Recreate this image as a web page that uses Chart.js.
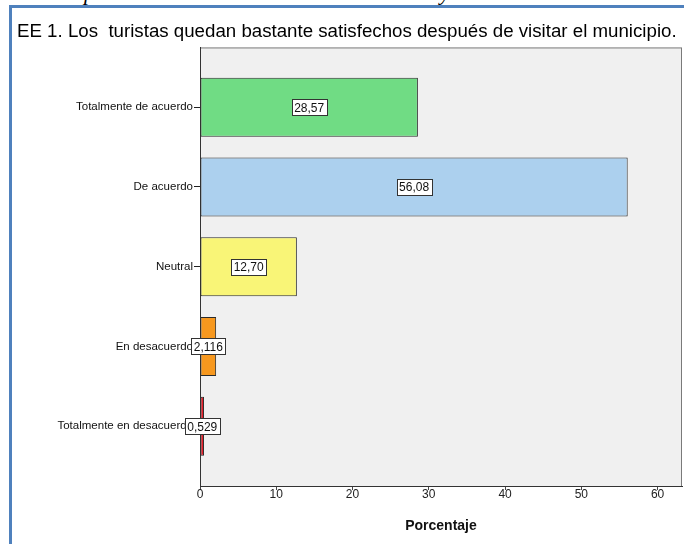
<!DOCTYPE html>
<html>
<head>
<meta charset="utf-8">
<script src="https://cdn.jsdelivr.net/npm/chart.js@4.4.1/dist/chart.umd.min.js"></script>
<style>
  html, body { margin: 0; padding: 0; background: #fff; }
  body { width: 684px; height: 544px; position: relative; overflow: hidden; }
  /* blue frame of the document figure, only left and top are visible */
  #frame { position: absolute; left: 9px; top: 5px; width: 700px; height: 560px;
           border-left: 3px solid #4F81BD; border-top: 3px solid #4F81BD; }
  /* descenders of the caption line above, cut by the crop */
  #cut { position: absolute; left: 0; top: 0; width: 684px; height: 5px; overflow: hidden;
         font: italic 22px 'Liberation Serif', serif; line-height: 22px; color: #000; }
  #cut span { position: absolute; top: -18px; }
  #wrap { position: absolute; left: 0; top: 0; width: 684px; height: 544px; }
</style>
</head>
<body>
<div id="cut"><span style="left:84px">p</span><span style="left:440px">y</span></div>
<div id="frame"></div>
<div id="wrap"><canvas id="chart" width="684" height="544"></canvas></div>

<script>
const TITLE = 'EE 1. Los  turistas quedan bastante satisfechos después de visitar el municipio.';
const CATEGORIES = [
  'Totalmente de acuerdo',
  'De acuerdo',
  'Neutral',
  'En desacuerdo',
  'Totalmente en desacuerdo',
];
const PERCENTAGES = [28.57, 56.08, 12.70, 2.116, 0.529];
const BAR_COLORS  = ['#70DC84', '#ACD0EE', '#F9F577', '#F7981E', '#E41E2A'];
const X_TICKS     = [0, 10, 20, 30, 40, 50, 60];
const X_LABEL     = 'Porcentaje';

const FONT = '"Liberation Sans", Arial, sans-serif';

// SPSS style: comma decimal, 4 significant digits
function fmt(v) {
  return (v >= 10 ? v.toFixed(2) : v.toFixed(3)).replace('.', ',');
}

// fit the title to the width it takes in the picture
function titleSize() {
  const c = document.createElement('canvas').getContext('2d');
  c.font = '100px ' + FONT;
  return Math.round(100 * 661 / c.measureText(TITLE).width * 10) / 10;
}

const plotBox = {
  id: 'plotBox',
  beforeDraw(chart) {
    const { ctx, chartArea: a } = chart;
    ctx.save();
    ctx.fillStyle = '#F0F0F0';
    ctx.fillRect(a.left, a.top, a.right - a.left, a.bottom - a.top);
    ctx.strokeStyle = '#7A7A7A';
    ctx.lineWidth = 1;
    ctx.strokeRect(a.left + 0.5, a.top + 0.5, a.right - a.left - 1, a.bottom - a.top);
    ctx.restore();
  },
};

const valueBoxes = {
  id: 'valueBoxes',
  afterDatasetsDraw(chart) {
    const ctx = chart.ctx;
    const meta = chart.getDatasetMeta(0);
    ctx.save();
    ctx.font = '12px ' + FONT;
    ctx.textAlign = 'center';
    ctx.textBaseline = 'middle';
    meta.data.forEach((bar, i) => {
      const txt = fmt(PERCENTAGES[i]);
      const cx = (bar.x + bar.base) / 2;
      const cy = bar.y;
      const w = Math.round(ctx.measureText(txt).width + 5);
      const h = 16;
      const x0 = Math.round(cx - w / 2) + 0.5;
      const y0 = Math.round(cy - h / 2) + 0.5;
      ctx.fillStyle = '#fff';
      ctx.fillRect(x0, y0, w, h);
      ctx.strokeStyle = '#333';
      ctx.lineWidth = 1;
      ctx.strokeRect(x0, y0, w, h);
      ctx.fillStyle = '#111';
      ctx.fillText(txt, cx, cy + 1);
    });
    ctx.restore();
  },
};

new Chart(document.getElementById('chart'), {
  type: 'bar',
  data: {
    datasets: [{
      data: PERCENTAGES.map((v, i) => ({ x: v, y: i })),
      backgroundColor: BAR_COLORS,
      borderColor: '#2A2A2A',
      borderWidth: 1,
      borderSkipped: false,
      barPercentage: 0.74,
      categoryPercentage: 1,
    }],
  },
  plugins: [plotBox, valueBoxes],
  options: {
    indexAxis: 'y',
    responsive: false,
    animation: false,
    layout: { padding: { left: 17, right: 2, top: 0, bottom: 0 } },
    plugins: {
      legend: { display: false },
      tooltip: { enabled: false },
      title: {
        display: true,
        text: TITLE,
        align: 'start',
        color: '#000',
        font: { family: FONT, size: titleSize(), weight: 'normal', lineHeight: 1.2 },
        padding: { top: 21, bottom: 4 },
      },
    },
    scales: {
      x: {
        type: 'linear',
        min: 0,
        max: 63.2,
        afterBuildTicks: (s) => { s.ticks = X_TICKS.map((v) => ({ value: v })); },
        afterFit: (s) => { s.height = 58; },
        grid: { drawOnChartArea: false, drawTicks: true, tickLength: 4, tickColor: '#444' },
        border: { display: true, color: '#333', width: 1 },
        ticks: { color: '#222', padding: -3, font: { family: FONT, size: 12 } },
        title: {
          display: true,
          text: X_LABEL,
          color: '#111',
          font: { family: FONT, size: 14, weight: 'bold' },
          padding: { top: 0, bottom: 9 },
        },
      },
      y: {
        type: 'linear',
        reverse: true,
        offset: false,
        min: -0.75,
        max: 4.75,
        afterBuildTicks: (s) => { s.ticks = CATEGORIES.map((_, i) => ({ value: i })); },
        afterFit: (s) => { s.width = 183; },
        grid: { offset: false, drawOnChartArea: false, drawTicks: true, tickLength: 6, tickColor: '#222' },
        border: { display: true, color: '#333', width: 1 },
        ticks: {
          color: '#111',
          padding: 1,
          font: { family: FONT, size: 11.5 },
          callback: (v) => CATEGORIES[v],
        },
      },
    },
  },
});
</script>
</body>
</html>
